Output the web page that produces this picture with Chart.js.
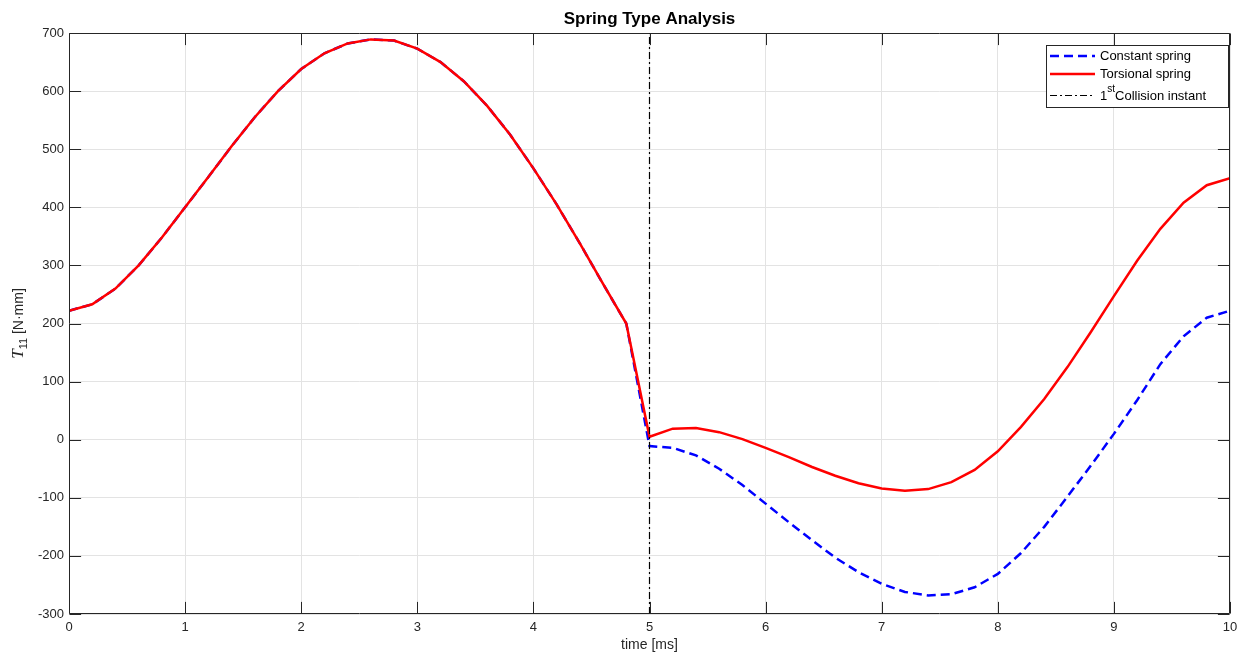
<!DOCTYPE html>
<html>
<head>
<meta charset="utf-8">
<title>Spring Type Analysis</title>
<script src="https://cdn.jsdelivr.net/npm/chart.js@4.4.1/dist/chart.umd.min.js"></script>
<style>
  html, body { margin: 0; padding: 0; background: #fff; }
  #wrap { width: 1247px; height: 655px; }
</style>
</head>
<body>
<div id="wrap"><canvas id="springChart" width="1247" height="655"></canvas></div>
<script>
// sample times [ms]
const timeMs = [0, 0.2, 0.4, 0.6, 0.8, 1, 1.2, 1.4, 1.6, 1.8, 2, 2.2, 2.4, 2.6, 2.8, 3, 3.2, 3.4, 3.6, 3.8,
  4, 4.2, 4.4, 4.6, 4.8, 5, 5.2, 5.4, 5.6, 5.8, 6, 6.2, 6.4, 6.6, 6.8, 7, 7.2, 7.4, 7.6, 7.8,
  8, 8.2, 8.4, 8.6, 8.8, 9, 9.2, 9.4, 9.6, 9.8, 10];

// T11 [N·mm]
const constantSpring = [222, 233, 260, 300, 348, 400, 452, 505, 555, 600, 638, 665, 682, 689, 687, 673, 650, 617, 575, 525,
  467, 405, 338, 268, 200, -11, -14, -27, -50, -78, -110, -142, -173, -203, -228, -248, -262, -268, -266, -254,
  -231, -195, -150, -98, -45, 10, 68, 130, 178, 210, 222];

const torsionalSpring = [222, 233, 260, 300, 348, 400, 452, 505, 555, 600, 638, 665, 682, 689, 687, 673, 650, 617, 575, 525,
  467, 405, 338, 268, 200, 5, 19, 20, 13, 1, -14, -30, -47, -62, -75, -84, -88, -85, -73, -52,
  -20, 22, 70, 125, 185, 247, 308, 363, 408, 438, 450];

const collisionTime = 5;
const xTicks = [0, 1, 2, 3, 4, 5, 6, 7, 8, 9, 10];
const yTicks = [-300, -200, -100, 0, 100, 200, 300, 400, 500, 600, 700];

const FONT = '"Liberation Sans", Arial, Helvetica, sans-serif';
const AXIS_COLOR = '#262626';

const toPoints = vals => vals.map((v, i) => ({ x: timeMs[i], y: v }));

// box round the axes, with inward ticks on all four sides
const axesFrame = {
  id: 'axesFrame',
  afterDatasetsDraw(chart) {
    const { ctx, chartArea: a, scales: { x, y } } = chart;
    const L = Math.round(a.left) + 0.5, R = Math.round(a.right) - 0.5;
    const T = Math.round(a.top) + 0.5, B = Math.round(a.bottom) - 0.5;
    const len = 11.6;
    ctx.save();
    ctx.strokeStyle = AXIS_COLOR;
    ctx.lineWidth = 1;
    ctx.beginPath();
    ctx.rect(L, T, R - L, B - T);
    xTicks.forEach(v => {
      const px = Math.round(x.getPixelForValue(v)) + 0.5;
      ctx.moveTo(px, B); ctx.lineTo(px, B - len);
      ctx.moveTo(px, T); ctx.lineTo(px, T + len);
    });
    yTicks.forEach(v => {
      const py = Math.round(y.getPixelForValue(v)) + 0.5;
      ctx.moveTo(L, py); ctx.lineTo(L + len, py);
      ctx.moveTo(R, py); ctx.lineTo(R - len, py);
    });
    ctx.stroke();
    ctx.restore();
  }
};

// title, axis labels and the legend box
const annotations = {
  id: 'annotations',
  afterDraw(chart) {
    const { ctx, chartArea: a } = chart;
    const cx = (a.left + a.right) / 2;
    ctx.save();
    ctx.fillStyle = '#000';
    ctx.textAlign = 'center';
    ctx.textBaseline = 'middle';
    ctx.font = 'bold 17px ' + FONT;
    ctx.fillText('Spring Type Analysis', cx, 19);

    ctx.fillStyle = AXIS_COLOR;
    ctx.font = '14px ' + FONT;
    ctx.fillText('time [ms]', cx, 645);

    // y label: T with subscript 11
    ctx.save();
    ctx.translate(18, (a.top + a.bottom) / 2);
    ctx.rotate(-Math.PI / 2);
    ctx.textAlign = 'left';
    ctx.textBaseline = 'alphabetic';
    const parts = [
      { t: 'T', f: 'italic 17px "Liberation Serif", serif', dy: 0 },
      { t: '11', f: '11px ' + FONT, dy: 4 },
      { t: ' [N\u00B7mm]', f: '14px ' + FONT, dy: 0 }
    ];
    let w = 0;
    parts.forEach(p => { ctx.font = p.f; p.w = ctx.measureText(p.t).width; w += p.w; });
    let px = -w / 2;
    parts.forEach(p => { ctx.font = p.f; ctx.fillText(p.t, px, 5 + p.dy); px += p.w; });
    ctx.restore();

    // legend
    const bx = 1046.5, by = 45.5, bw = 182, bh = 62;
    ctx.fillStyle = '#fff';
    ctx.fillRect(bx, by, bw, bh);
    ctx.strokeStyle = AXIS_COLOR;
    ctx.lineWidth = 1;
    ctx.strokeRect(bx, by, bw, bh);
    const rows = [
      { y: 56, color: '#0000ff', width: 2.5, dash: [9, 5] },
      { y: 74, color: '#ff0000', width: 2.5, dash: [] },
      { y: 95.5, color: '#000000', width: 1, dash: [7, 3, 2, 3] }
    ];
    rows.forEach(r => {
      ctx.beginPath();
      ctx.strokeStyle = r.color;
      ctx.lineWidth = r.width;
      ctx.setLineDash(r.dash);
      ctx.moveTo(1050, r.y);
      ctx.lineTo(1095, r.y);
      ctx.stroke();
    });
    ctx.setLineDash([]);
    ctx.fillStyle = '#000';
    ctx.textAlign = 'left';
    ctx.textBaseline = 'middle';
    ctx.font = '13px ' + FONT;
    ctx.fillText('Constant spring', 1100, 56);
    ctx.fillText('Torsional spring', 1100, 74);
    let lx = 1100;
    ctx.fillText('1', lx, 96);
    lx += ctx.measureText('1').width;
    ctx.font = '10px ' + FONT;
    ctx.fillText('st', lx, 89);
    lx += ctx.measureText('st').width;
    ctx.font = '13px ' + FONT;
    ctx.fillText('Collision instant', lx, 96);
    ctx.restore();
  }
};

new Chart(document.getElementById('springChart'), {
  type: 'line',
  data: {
    datasets: [
      {
        label: '1st Collision instant',
        data: [{ x: collisionTime, y: yTicks[0] }, { x: collisionTime, y: yTicks[yTicks.length - 1] }],
        borderColor: '#000',
        borderWidth: 1.2,
        borderDash: [7, 3, 2, 3],
        pointRadius: 0,
        order: 0
      },
      {
        label: 'Torsional spring',
        data: toPoints(torsionalSpring),
        borderColor: '#ff0000',
        borderWidth: 2.5,
        pointRadius: 0,
        tension: 0,
        order: 1
      },
      {
        label: 'Constant spring',
        data: toPoints(constantSpring),
        borderColor: '#0000ff',
        borderWidth: 2.5,
        borderDash: [9, 5],
        pointRadius: 0,
        tension: 0,
        order: 2
      }
    ]
  },
  options: {
    responsive: false,
    animation: false,
    layout: { padding: { left: 0, top: 33, right: 17, bottom: 0 } },
    plugins: {
      legend: { display: false },
      title: { display: false },
      tooltip: { enabled: false }
    },
    scales: {
      x: {
        type: 'linear',
        min: 0,
        max: 10,
        afterFit(scale) { scale.height = 41; },
        afterBuildTicks(scale) { scale.ticks = xTicks.map(v => ({ value: v })); },
        grid: { color: '#e3e3e3', drawTicks: false },
        border: { display: false },
        ticks: { padding: 6, color: AXIS_COLOR, font: { family: FONT, size: 13 } }
      },
      y: {
        min: -300,
        max: 700,
        afterFit(scale) { scale.width = 69; },
        afterBuildTicks(scale) { scale.ticks = yTicks.map(v => ({ value: v })); },
        grid: { color: '#e3e3e3', drawTicks: false },
        border: { display: false },
        ticks: { padding: 5, color: AXIS_COLOR, font: { family: FONT, size: 13 } }
      }
    }
  },
  plugins: [axesFrame, annotations]
});
</script>
</body>
</html>
